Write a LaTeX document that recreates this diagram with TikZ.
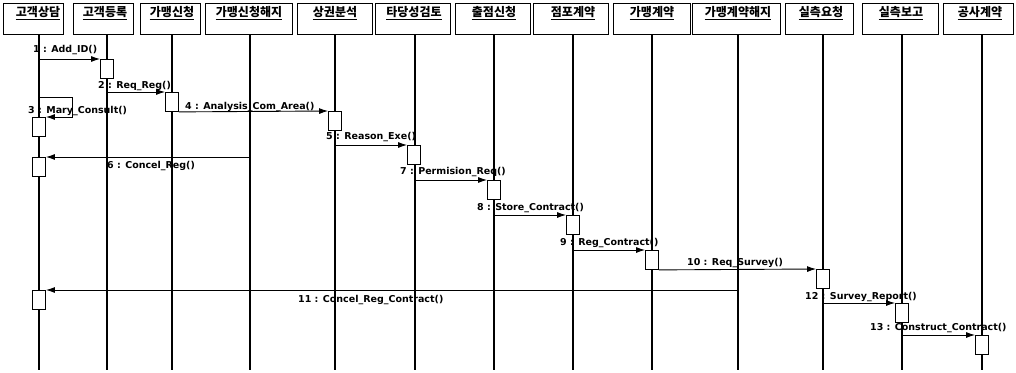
\documentclass[tikz,border=0pt]{standalone}
\usepackage{fontspec}
\setmainfont{DejaVu Sans}
\newfontfamily\kr{Noto Sans CJK KR}
\usetikzlibrary{arrows.meta}
\tikzset{
  hbox/.style={draw, line width=1pt, minimum height=31pt, inner sep=0pt},
  htext/.style={font=\kr\bfseries\fontsize{12}{13}\selectfont, inner sep=0pt},
  uline/.style={line width=1pt},
  life/.style={line width=1.3pt},
  act/.style={draw, fill=white, line width=0.9pt, minimum width=13pt, minimum height=19pt, inner sep=0pt, anchor=north},
  msg/.style={line width=0.9pt, -{Latex[length=9pt,width=6pt]}},
  lbl/.style={font=\bfseries\fontsize{9.5}{10}\selectfont, inner sep=0pt, anchor=west},
}
\begin{document}
\begin{tikzpicture}[x=1pt,y=-1pt]
\useasboundingbox[fill=white] (0,0) rectangle (1016,372);
\coordinate (bot) at (0,370);
% header boxes
\node[hbox, minimum width=60pt] (h1) at (33,18.5) {};
\node[hbox, minimum width=60pt] (h2) at (103,18.5) {};
\node[hbox, minimum width=60pt] (h3) at (170,18.5) {};
\node[hbox, minimum width=87pt] (h4) at (248.5,18.5) {};
\node[hbox, minimum width=75pt] (h5) at (334.5,18.5) {};
\node[hbox, minimum width=75pt] (h6) at (412.5,18.5) {};
\node[hbox, minimum width=75pt] (h7) at (492.5,18.5) {};
\node[hbox, minimum width=75pt] (h8) at (570.5,18.5) {};
\node[hbox, minimum width=77pt] (h9) at (651.5,18.5) {};
\node[hbox, minimum width=88pt] (h10) at (736,18.5) {};
\node[hbox, minimum width=68pt] (h11) at (819,18.5) {};
\node[hbox, minimum width=76pt] (h12) at (900,18.5) {};
\node[hbox, minimum width=70pt] (h13) at (978,18.5) {};
% header texts
\node[htext] (t1) at (38,12) {고객상담};
\node[htext] (t2) at (105,12) {고객등록};
\node[htext] (t3) at (172,12) {가맹신청};
\node[htext] (t4) at (249,12) {가맹신청해지};
\node[htext] (t5) at (335,12) {상권분석};
\node[htext] (t6) at (414,12) {타당성검토};
\node[htext] (t7) at (494,12) {출점신청};
\node[htext] (t8) at (573,12) {점포계약};
\node[htext] (t9) at (652,12) {가맹계약};
\node[htext] (t10) at (738,12) {가맹계약해지};
\node[htext] (t11) at (821,12) {실측요청};
\node[htext] (t12) at (901,12) {실측보고};
\node[htext] (t13) at (980,12) {공사계약};
\foreach \i in {1,...,13} {
  \draw[uline] ([yshift=-3pt]t\i.base west) -- ([yshift=-3pt]t\i.base east);
}
% lifeline positions
\coordinate (x1) at (39,0);   \coordinate (x2) at (107,0);
\coordinate (x3) at (172,0);  \coordinate (x4) at (250,0);
\coordinate (x5) at (335,0);  \coordinate (x6) at (415,0);
\coordinate (x7) at (494,0);  \coordinate (x8) at (573,0);
\coordinate (x9) at (652,0);  \coordinate (x10) at (738,0);
\coordinate (x11) at (823,0); \coordinate (x12) at (902,0);
\coordinate (x13) at (982,0);
% lifelines
\foreach \i in {1,...,13} {
  \draw[life] (x\i |- h\i.south) -- (x\i |- bot);
}
% activations
\node[act] (a2) at (107,59) {};
\node[act] (a3) at (172,92) {};
\node[act] (a1a) at (39,117) {};
\node[act] (a5) at (335,111) {};
\node[act] (a6) at (414,145) {};
\node[act] (a1b) at (39,157) {};
\node[act] (a7) at (494,180) {};
\node[act] (a8) at (573,215) {};
\node[act] (a9) at (652,250) {};
\node[act] (a11) at (823,269) {};
\node[act] (a1c) at (39,290) {};
\node[act] (a12) at (902,303) {};
\node[act] (a13) at (982,335) {};
% messages
\coordinate (s3) at (72,97);
\draw[msg] (x1 |- a2.north west) -- (a2.north west);
\draw[msg] (x2 |- a3.north west) -- (a3.north west);
\draw[msg] (x1 |- s3) -- (s3) -- (s3 |- a1a.north east) -- (a1a.north east);
\draw[msg] (a3.south east) -- (a5.north west);
\draw[msg] (x5 |- a6.north west) -- (a6.north west);
\draw[msg] (x4 |- a1b.north east) -- (a1b.north east);
\draw[msg] (x6 |- a7.north west) -- (a7.north west);
\draw[msg] (x7 |- a8.north west) -- (a8.north west);
\draw[msg] (x8 |- a9.north west) -- (a9.north west);
\draw[msg] (a9.south east) -- (a11.north west);
\draw[msg] (x10 |- a1c.north east) -- (a1c.north east);
\draw[msg] (x11 |- a12.north west) -- (a12.north west);
\draw[msg] (x12 |- a13.north west) -- (a13.north west);
% labels
\node[lbl] (l1) at (33,50) {1 : Add\_ID()};
\node[lbl] (l2) at (98,86) {2 : Req\_Reg()};
\node[lbl] (l3) at (28,111) {3 : Mary\_Consult()};
\node[lbl] (l4) at (185,107) {4 : Analysis\_Com\_Area()};
\node[lbl] (l5) at (326,137) {5 : Reason\_Exe()};
\node[lbl] (l6) at (107,166) {6 : Concel\_Reg()};
\node[lbl] (l7) at (400,172) {7 : Permision\_Req()};
\node[lbl] (l8) at (477,208) {8 : Store\_Contract()};
\node[lbl] (l9) at (560,243) {9 : Reg\_Contract()};
\node[lbl] (l10) at (687,263) {10 : Req\_Survey()};
\node[lbl] (l11) at (298,300) {11 : Concel\_Reg\_Contract()};
\node[lbl] (l12) at (805,297) {12 : Survey\_Report()};
\node[lbl] (l13) at (870,328) {13 : Construct\_Contract()};
\end{tikzpicture}
\end{document}
